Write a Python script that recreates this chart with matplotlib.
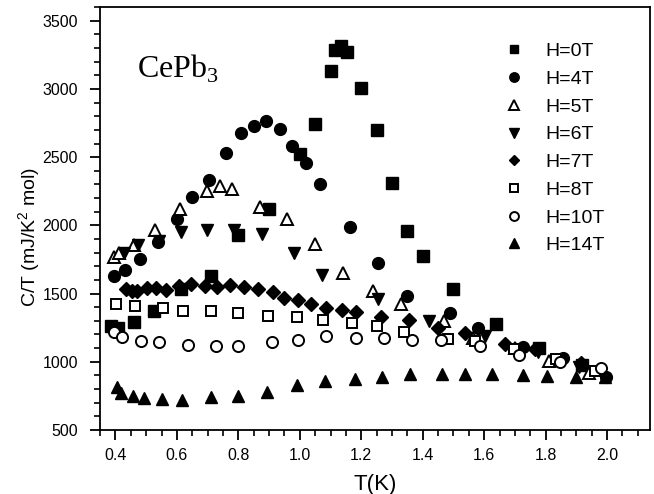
import matplotlib
matplotlib.use("Agg")
import matplotlib.pyplot as plt
from matplotlib.ticker import MultipleLocator

plt.rcParams['font.family'] = ['Liberation Sans', 'DejaVu Sans']
plt.rcParams['mathtext.fontset'] = 'custom'
plt.rcParams['mathtext.rm'] = 'Liberation Sans'
plt.rcParams['mathtext.it'] = 'Liberation Sans:italic'

# ---- data ----
T_0 = [0.385, 0.41, 0.46, 0.525, 0.615, 0.71, 0.80, 0.90, 1.0, 1.05, 1.10, 1.115, 1.135, 1.155,
       1.20, 1.25, 1.30, 1.35, 1.40, 1.50, 1.64, 1.78, 1.92]
C_0 = [1265, 1250, 1294, 1370, 1534, 1627, 1931, 2123, 2522, 2743, 3135, 3283, 3316, 3269,
       3005, 2699, 2311, 1958, 1779, 1534, 1277, 1101, 975]

T_4 = [0.395, 0.43, 0.48, 0.54, 0.60, 0.65, 0.705, 0.76, 0.81, 0.85, 0.89, 0.935, 0.975, 1.02,
       1.065, 1.165, 1.255, 1.35, 1.49, 1.58, 1.725, 1.855, 1.995]
C_4 = [1630, 1670, 1755, 1880, 2045, 2210, 2335, 2530, 2680, 2730, 2765, 2705, 2585, 2455,
       2305, 1985, 1725, 1485, 1355, 1250, 1110, 1030, 885]

T_5 = [0.395, 0.413, 0.46, 0.53, 0.609, 0.697, 0.741, 0.781, 0.872, 0.959, 1.048, 1.142, 1.238,
       1.331, 1.468, 1.565, 1.70, 1.81, 1.94]
C_5 = [1767, 1796, 1858, 1963, 2123, 2249, 2289, 2270, 2135, 2044, 1860, 1649, 1522,
       1424, 1301, 1174, 1100, 1007, 921]

T_6 = [0.427, 0.474, 0.541, 0.612, 0.699, 0.787, 0.877, 0.982, 1.073, 1.255, 1.42, 1.604, 1.775, 1.91]
C_6 = [1796, 1853, 1885, 1948, 1965, 1965, 1939, 1794, 1639, 1458, 1298, 1191, 1075, 960]

T_7 = [0.433, 0.454, 0.47, 0.503, 0.531, 0.566, 0.607, 0.647, 0.691, 0.732, 0.773, 0.819, 0.865,
       0.912, 0.950, 0.994, 1.038, 1.084, 1.137, 1.182, 1.264, 1.357, 1.451, 1.538, 1.668, 1.767, 1.915]
C_7 = [1534, 1522, 1517, 1539, 1539, 1529, 1559, 1571, 1554, 1551, 1564, 1551, 1534,
       1510, 1468, 1452, 1424, 1396, 1381, 1362, 1326, 1306, 1250, 1212, 1130, 1093, 990]

T_8 = [0.403, 0.465, 0.556, 0.621, 0.712, 0.800, 0.896, 0.992, 1.077, 1.170, 1.252, 1.338, 1.481,
       1.571, 1.697, 1.833, 1.96]
C_8 = [1424, 1412, 1392, 1375, 1375, 1355, 1338, 1326, 1303, 1282, 1265, 1216, 1166,
       1151, 1097, 1020, 929]

T_10 = [0.395, 0.422, 0.482, 0.541, 0.636, 0.727, 0.80, 0.909, 0.993, 1.084, 1.184, 1.275, 1.364,
        1.458, 1.586, 1.713, 1.847, 1.979]
C_10 = [1215, 1179, 1154, 1142, 1122, 1118, 1118, 1147, 1162, 1186, 1177, 1177, 1159,
        1157, 1114, 1047, 995, 955]

T_14 = [0.405, 0.418, 0.458, 0.493, 0.553, 0.616, 0.710, 0.80, 0.893, 0.992, 1.083, 1.179, 1.266,
        1.358, 1.464, 1.538, 1.625, 1.726, 1.805, 1.898, 1.993]
C_14 = [818, 774, 750, 738, 725, 718, 743, 750, 782, 831, 860, 877, 892,
        909, 914, 909, 909, 904, 897, 890, 885]

labels = ["H=0T", "H=4T", "H=5T", "H=6T", "H=7T", "H=8T", "H=10T", "H=14T"]
x_ticks = [0.4, 0.6, 0.8, 1.0, 1.2, 1.4, 1.6, 1.8, 2.0]
x_ticklabels = ["0.4", "0.6", "0.8", "1.0", "1.2", "1.4", "1.6", "1.8", "2.0"]
y_ticks = [500, 1000, 1500, 2000, 2500, 3000, 3500]

# ---- plot ----
fig = plt.figure(figsize=(6.54, 4.94), dpi=100)
ax = fig.add_axes([0.153, 0.1296, 0.841, 0.856])

series = [
    (T_0, C_0, dict(marker='s', ms=8, mfc='black', mec='black')),
    (T_4, C_4, dict(marker='o', ms=8.5, mfc='black', mec='black')),
    (T_5, C_5, dict(marker='^', ms=8.5, mfc='white', mec='black', mew=1.4)),
    (T_6, C_6, dict(marker='v', ms=9, mfc='black', mec='black')),
    (T_7, C_7, dict(marker='D', ms=7, mfc='black', mec='black')),
    (T_8, C_8, dict(marker='s', ms=7.5, mfc='white', mec='black', mew=1.4)),
    (T_10, C_10, dict(marker='o', ms=8, mfc='white', mec='black', mew=1.4)),
    (T_14, C_14, dict(marker='^', ms=9, mfc='black', mec='black')),
]
handles = []
for (t, c, st), lab in zip(series, labels):
    h, = ax.plot(t, c, linestyle='none', label=lab, **st)
    handles.append(h)

ax.set_xlim(0.35, 2.14)
ax.set_ylim(500, 3600)
ax.xaxis.set_minor_locator(MultipleLocator(0.05))
ax.yaxis.set_minor_locator(MultipleLocator(100))
ax.set_xticks(x_ticks)
ax.set_xticklabels(x_ticklabels)
ax.set_yticks(y_ticks)
ax.tick_params(which='major', direction='out', length=7, width=1.3, labelsize=11.5)
ax.tick_params(axis='x', which='major', pad=6)
ax.tick_params(axis='y', which='major', pad=9)
ax.tick_params(which='minor', direction='out', length=4, width=1.2)
for s in ax.spines.values():
    s.set_linewidth(1.3)

ax.set_xlabel("T(K)", fontsize=16)
ax.xaxis.set_label_coords(0.50, -0.105)
ax.set_ylabel(r"C/T (mJ/K$^2$ mol)", fontsize=14)
ax.yaxis.set_label_coords(-0.105, 0.456)

ax.text(0.067, 0.832, r"CePb$_{\mathregular{3}}$", transform=ax.transAxes, fontsize=23,
        family='Liberation Serif', ha='left', va='baseline')

leg = ax.legend(handles=[plt.Line2D([], [], linestyle='none', marker=h.get_marker(),
                                    ms=h.get_markersize() * 0.8, mfc=h.get_markerfacecolor(),
                                    mec='black', mew=h.get_markeredgewidth())
                         for h in handles],
                labels=labels, loc='upper left', bbox_to_anchor=(0.718, 0.939),
                frameon=False, fontsize=14, handlelength=1.0, handletextpad=1.1,
                labelspacing=0.52, borderpad=0)

fig.savefig("out.png", dpi=100)
